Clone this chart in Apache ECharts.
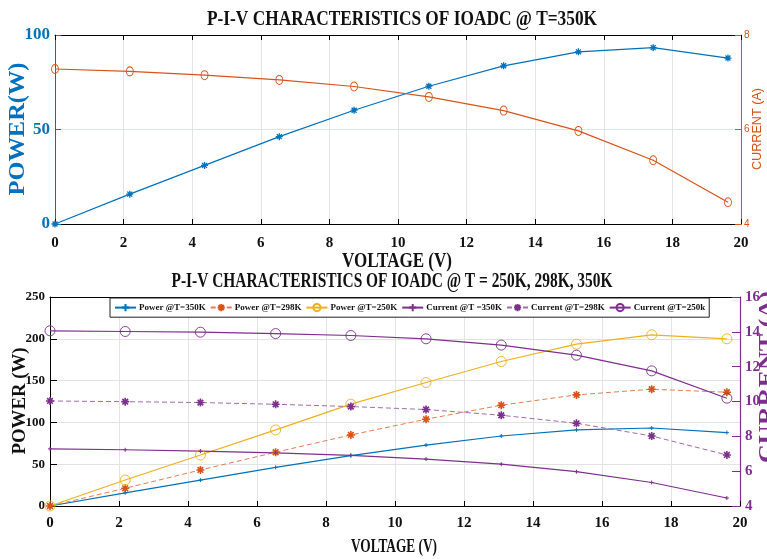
<!DOCTYPE html>
<html>
<head>
<meta charset="utf-8">
<script src="https://cdn.jsdelivr.net/npm/echarts@6/dist/echarts.min.js"></script>
<style>
html,body{margin:0;padding:0;background:#fff;}
#chart{width:767px;height:559px;}
</style>
</head>
<body>
<div id="chart"></div>
<script>
// ---------- data ----------
const voltage    = [0, 2.18, 4.36, 6.54, 8.72, 10.9, 13.08, 15.26, 17.44, 19.62];
const power350   = [0, 15.8, 31.0, 46.2, 60.2, 72.9, 83.7, 91.1, 93.3, 87.8];
const current350 = [7.28, 7.23, 7.15, 7.05, 6.91, 6.69, 6.40, 5.97, 5.35, 4.46];
const power298   = [0, 21.2, 43.1, 64.3, 85.0, 103.8, 120.6, 132.9, 139.7, 136.1];
const current298 = [10.03, 9.99, 9.94, 9.84, 9.71, 9.54, 9.21, 8.75, 8.02, 6.93];
const power250   = [0, 31.1, 61.0, 91.0, 121.8, 147.7, 172.8, 193.6, 204.8, 200.0];
const current250 = [14.06, 14.02, 13.98, 13.90, 13.79, 13.60, 13.24, 12.66, 11.76, 10.19];

const voltageTicks = [0, 2, 4, 6, 8, 10, 12, 14, 16, 18, 20];
const topPowerTicks = [0, 50, 100];
const topCurrentTicks = [4, 6, 8];
const botPowerTicks = [0, 50, 100, 150, 200, 250];
const botCurrentTicks = [4, 6, 8, 10, 12, 14, 16];

const legendNames = ['Power @T=350K', 'Power @T=298K', 'Power @T=250K',
                     'Current @T =350K', 'Current @T=298K', 'Current @T=250k'];
const titleTop = 'P-I-V CHARACTERISTICS OF IOADC @ T=350K';
const titleBot = 'P-I-V CHARACTERISTICS OF IOADC @ T = 250K, 298K, 350K';

// ---------- styling ----------
const BLUE = '#0072BD', ORANGE = '#D95319', YELLOW = '#EDB120', PURPLE = '#7E2F8E';
const SERIF = '"Liberation Serif", "Times New Roman", serif';
const SANS = '"Liberation Sans", Arial, sans-serif';
const ASTER = 'path://M0,-10L0,10M-10,0L10,0M-7.07,-7.07L7.07,7.07M-7.07,7.07L7.07,-7.07';
const PLUS = 'path://M0,-10L0,10M-10,0L10,0';

const pairs = (xs, ys) => xs.map((x, i) => [x, ys[i]]);

const mctx = document.createElement('canvas').getContext('2d');
function measure(text, font) { mctx.font = font; return mctx.measureText(text).width; }
function label(text, cx, cy, font, target, color, rot, align) {
  const w = measure(text, font);
  const s = target / w;
  return {
    type: 'text', x: cx, y: cy, rotation: rot || 0, scaleX: s, z: 100,
    style: { text: text, font: font, fill: color,
      textAlign: align || 'center', textVerticalAlign: 'middle',
      align: align || 'center', verticalAlign: 'middle' }
  };
}

function xAx(grid, pos, showLabel, fontSize, margin, split, ticks) {
  return {
    type: 'value', gridIndex: grid, position: pos, min: 0, max: 20, interval: 2,
    axisLine: { show: true, onZero: false, lineStyle: { color: '#000', width: 1 } },
    axisTick: { show: ticks, inside: true, length: 5, lineStyle: { color: '#000' } },
    axisLabel: { show: showLabel, fontFamily: SERIF, fontWeight: 'bold', fontSize: fontSize,
      color: '#111', margin: margin,
      formatter: v => voltageTicks.includes(v) ? String(v) : '' },
    splitLine: { show: split, lineStyle: { color: '#e4e4e4', width: 1 } }
  };
}

function ring(color) {
  return { color: 'rgba(255,255,255,0)', borderColor: color, borderWidth: 0.9 };
}

const option = {
  animation: false,
  backgroundColor: '#fff',
  grid: [
    { left: 55, right: 26, top: 35, bottom: 335, containLabel: false },
    { left: 50, right: 27, top: 297, bottom: 53, containLabel: false }
  ],
  xAxis: [
    xAx(0, 'bottom', true, 15, 12, true, true),
    xAx(0, 'top', false, 15, 8, false, true),
    xAx(1, 'bottom', true, 15, 10, true, true),
    xAx(1, 'top', false, 15, 8, false, false)
  ],
  yAxis: [
    { type: 'value', gridIndex: 0, position: 'left', min: 0, max: 100, interval: 50,
      axisLine: { show: true, onZero: false, lineStyle: { color: BLUE, width: 1 } },
      axisTick: { show: true, inside: true, length: 6, lineStyle: { color: BLUE } },
      axisLabel: { fontFamily: SERIF, fontWeight: 'bold', fontSize: 17, color: BLUE, margin: 5,
        formatter: v => topPowerTicks.includes(v) ? String(v) : '' },
      splitLine: { show: true, lineStyle: { color: '#dfe5ec' } } },
    { type: 'value', gridIndex: 0, position: 'right', min: 4, max: 8, interval: 2,
      axisLine: { show: true, onZero: false, lineStyle: { color: ORANGE, width: 1 } },
      axisTick: { show: true, inside: true, length: 6, lineStyle: { color: ORANGE } },
      axisLabel: { fontFamily: SANS, fontSize: 10, color: ORANGE, margin: 3,
        formatter: v => topCurrentTicks.includes(v) ? String(v) : '' },
      splitLine: { show: false } },
    { type: 'value', gridIndex: 1, position: 'left', min: 0, max: 250, interval: 50,
      axisLine: { show: true, onZero: false, lineStyle: { color: '#000', width: 1 } },
      axisTick: { show: true, inside: true, length: 7, lineStyle: { color: '#000' } },
      axisLabel: { fontFamily: SERIF, fontWeight: 'bold', fontSize: 13, color: '#111', margin: 5,
        formatter: v => botPowerTicks.includes(v) ? String(v) : '' },
      splitLine: { show: true, lineStyle: { color: '#e2e2e2' } } },
    { type: 'value', gridIndex: 1, position: 'right', min: 4, max: 16, interval: 2,
      axisLine: { show: true, onZero: false, lineStyle: { color: PURPLE, width: 1.2 } },
      axisTick: { show: true, inside: true, length: 8, lineStyle: { color: PURPLE } },
      axisLabel: { fontFamily: SERIF, fontWeight: 'bold', fontSize: 15, color: PURPLE, margin: 5,
        formatter: v => botCurrentTicks.includes(v) ? String(v) : '' },
      splitLine: { show: false } }
  ],
  legend: {
    data: legendNames,
    left: 110, top: 298, width: 640, orient: 'horizontal',
    itemWidth: 21, itemHeight: 9, itemGap: 4,
    padding: [5, 4, 5, 4],
    backgroundColor: '#fff', borderColor: '#222', borderWidth: 1,
    textStyle: { fontFamily: SERIF, fontWeight: 'bold', fontSize: 9, color: '#111', padding: [0, 0, 0, -2] },
    selectedMode: false
  },
  series: [
    // top chart
    { name: 'top-power', type: 'line', xAxisIndex: 0, yAxisIndex: 0, data: pairs(voltage, power350),
      symbol: ASTER, symbolSize: 7, showAllSymbol: true,
      lineStyle: { color: BLUE, width: 1.2 },
      itemStyle: { color: BLUE, borderColor: BLUE, borderWidth: 1.3 } },
    { name: 'top-current', type: 'line', xAxisIndex: 0, yAxisIndex: 1, data: pairs(voltage, current350),
      symbol: 'circle', symbolSize: [7, 9], showAllSymbol: true,
      lineStyle: { color: ORANGE, width: 1.2 },
      itemStyle: ring(ORANGE) },
    // bottom chart
    { name: legendNames[0], type: 'line', xAxisIndex: 2, yAxisIndex: 2, data: pairs(voltage, power350),
      symbol: PLUS, symbolSize: 4, showAllSymbol: true,
      lineStyle: { color: BLUE, width: 1.2 },
      itemStyle: { color: BLUE, borderColor: BLUE, borderWidth: 1 } },
    { name: legendNames[1], type: 'line', xAxisIndex: 2, yAxisIndex: 2, data: pairs(voltage, power298),
      symbol: ASTER, symbolSize: 8, showAllSymbol: true,
      lineStyle: { color: '#E57E52', width: 1, type: [5, 3] },
      itemStyle: { color: ORANGE, borderColor: ORANGE, borderWidth: 1.6 } },
    { name: legendNames[2], type: 'line', xAxisIndex: 2, yAxisIndex: 2, data: pairs(voltage, power250),
      symbol: 'circle', symbolSize: 10, showAllSymbol: true,
      lineStyle: { color: YELLOW, width: 1.2 },
      itemStyle: ring(YELLOW) },
    { name: legendNames[3], type: 'line', xAxisIndex: 2, yAxisIndex: 3, data: pairs(voltage, current350),
      symbol: PLUS, symbolSize: 4, showAllSymbol: true,
      lineStyle: { color: PURPLE, width: 1.2 },
      itemStyle: { color: PURPLE, borderColor: PURPLE, borderWidth: 1 } },
    { name: legendNames[4], type: 'line', xAxisIndex: 2, yAxisIndex: 3, data: pairs(voltage, current298),
      symbol: ASTER, symbolSize: 8, showAllSymbol: true,
      lineStyle: { color: '#A36BAE', width: 1, type: [5, 3] },
      itemStyle: { color: PURPLE, borderColor: PURPLE, borderWidth: 1.6 } },
    { name: legendNames[5], type: 'line', xAxisIndex: 2, yAxisIndex: 3, data: pairs(voltage, current250),
      symbol: 'circle', symbolSize: 10, showAllSymbol: true,
      lineStyle: { color: PURPLE, width: 1.2 },
      itemStyle: ring(PURPLE) }
  ],
  graphic: [
    label(titleTop, 402, 19, 'bold 22px ' + SERIF, 390, '#111', 0),
    label('POWER(W)', 18, 129, 'bold 23px ' + SERIF, 133, BLUE, Math.PI / 2),
    label('CURRENT (A)', 757, 129, '13px ' + SANS, 82, ORANGE, Math.PI / 2),
    label('VOLTAGE (V)', 397, 262, 'bold 21px ' + SERIF, 110, '#111', 0),
    label(titleBot, 392, 282, 'bold 20px ' + SERIF, 441, '#111', 0),
    label('POWER (W)', 20, 401, 'bold 18px ' + SERIF, 107, '#111', Math.PI / 2),
    label('VOLTAGE (V)', 394, 547, 'bold 18px ' + SERIF, 86, '#111', 0),
    label('CURRENT (A)', 768, 463, 'bold 21px ' + SERIF, 172, PURPLE, Math.PI / 2, 'left')
  ]
};

const chart = echarts.init(document.getElementById('chart'), null, { renderer: 'canvas' });
chart.setOption(option);
</script>
</body>
</html>
